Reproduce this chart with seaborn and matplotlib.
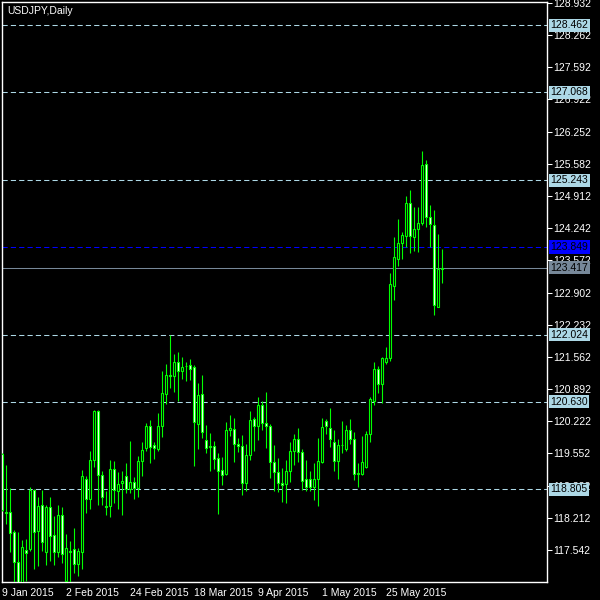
import pandas as pd
import numpy as np
import matplotlib
matplotlib.use("Agg")
import matplotlib.pyplot as plt
import matplotlib.transforms as mtransforms
import seaborn as sns

# daily USDJPY candles, 9 Jan 2015 .. 12 Jun 2015
opens = [119.55, 118.33, 118.33, 117.91, 117.30, 116.55, 117.54, 117.56, 118.79, 117.94,
         118.47, 117.49, 118.44, 117.85, 117.51, 118.28, 116.90, 117.52, 117.56, 117.26,
         117.49, 119.02, 118.61, 119.41, 120.44, 119.10, 118.45, 118.45, 119.22, 118.76,
         118.93, 119.08, 118.81, 118.96, 118.83, 119.40, 119.67, 120.12, 119.72, 119.65,
         120.12, 120.78, 121.18, 121.17, 121.46, 121.27, 121.37, 121.39, 121.35, 120.17,
         120.78, 119.83, 119.70, 119.70, 119.46, 119.20, 119.12, 120.04, 120.07, 119.74,
         119.70, 118.93, 119.51, 120.27, 120.12, 120.55, 120.19, 120.12, 119.37, 119.16,
         118.94, 118.91, 119.18, 119.61, 119.85, 119.58, 119.01, 119.01, 118.85, 119.01,
         119.37, 120.22, 120.08, 119.80, 119.40, 119.73, 119.65, 120.05, 119.85, 119.13,
         119.12, 119.26, 119.95, 120.65, 121.30, 121.00, 121.46, 121.53, 123.04, 123.61,
         123.93, 124.08, 124.76, 124.06, 124.23, 124.34, 125.57, 124.47, 124.30, 122.61,
         123.39]
highs = [119.56, 119.31, 118.83, 117.96, 117.92, 117.75, 117.76, 118.85, 118.81, 118.65,
         118.79, 118.48, 118.64, 118.25, 118.48, 118.44, 117.87, 117.73, 118.00, 117.58,
         119.21, 119.08, 119.60, 120.46, 120.46, 119.19, 118.76, 119.42, 119.39, 119.17,
         119.19, 119.35, 119.81, 119.06, 119.50, 119.79, 120.19, 120.25, 119.80, 120.39,
         121.27, 121.41, 122.02, 121.62, 121.66, 121.55, 121.46, 121.51, 121.39, 121.02,
         121.18, 120.14, 119.98, 119.81, 119.56, 119.48, 120.21, 120.35, 120.30, 119.87,
         119.93, 119.74, 120.44, 120.32, 120.73, 120.65, 120.83, 120.16, 119.72, 119.45,
         119.25, 119.42, 119.80, 119.96, 120.08, 119.64, 119.42, 119.19, 119.35, 119.87,
         120.29, 120.27, 120.50, 120.04, 119.85, 120.23, 120.14, 120.27, 120.00, 119.35,
         119.92, 120.02, 120.73, 121.46, 121.37, 121.56, 121.77, 123.31, 124.06, 124.43,
         124.16, 124.91, 125.04, 124.68, 124.68, 125.85, 125.66, 124.72, 124.62, 124.12,
         123.81]
lows = [118.36, 118.08, 117.51, 116.65, 115.85, 116.00, 116.90, 117.53, 117.15, 117.21,
        117.52, 117.23, 117.32, 117.23, 117.40, 117.28, 116.80, 116.80, 117.06, 117.01,
        117.14, 118.31, 118.39, 119.26, 118.48, 118.48, 118.26, 118.22, 118.53, 118.40,
        118.27, 118.72, 118.73, 118.60, 118.65, 119.09, 119.61, 119.36, 119.44, 119.61,
        119.89, 120.59, 120.92, 120.84, 120.65, 121.10, 121.07, 121.08, 119.28, 119.64,
        119.88, 119.57, 119.19, 119.22, 118.30, 118.90, 119.10, 119.92, 119.38, 119.59,
        118.69, 118.78, 119.42, 119.61, 119.83, 120.03, 119.67, 119.04, 118.76, 118.75,
        118.55, 118.51, 118.96, 119.32, 119.37, 118.79, 118.76, 118.76, 118.59, 118.46,
        119.35, 119.96, 119.69, 119.19, 119.02, 119.57, 119.61, 119.75, 119.00, 118.86,
        119.10, 119.24, 119.80, 120.55, 120.82, 120.60, 121.42, 121.48, 122.75, 123.45,
        123.59, 123.86, 123.73, 123.77, 123.75, 124.31, 124.27, 123.86, 122.44, 122.60,
        123.11]
closes = [118.37, 118.31, 117.90, 117.30, 116.55, 117.60, 117.48, 118.79, 117.92, 118.46,
          117.71, 118.44, 117.84, 117.51, 118.27, 117.45, 117.58, 117.51, 117.24, 117.52,
          119.08, 118.61, 119.41, 120.44, 119.10, 118.64, 118.44, 119.22, 118.79, 118.92,
          118.97, 118.81, 118.95, 118.84, 119.39, 119.62, 120.12, 119.69, 119.66, 120.12,
          120.82, 121.18, 121.16, 121.46, 121.26, 121.35, 121.38, 121.32, 120.20, 120.76,
          119.99, 119.67, 119.68, 119.44, 119.19, 119.11, 120.03, 120.09, 119.74, 119.71,
          118.93, 119.51, 120.24, 120.12, 120.55, 120.18, 120.12, 119.37, 119.16, 118.93,
          118.90, 119.18, 119.61, 119.85, 119.58, 118.97, 118.86, 118.86, 119.01, 119.39,
          120.10, 120.12, 119.85, 119.40, 119.73, 119.72, 120.05, 119.85, 119.12, 119.14,
          119.37, 119.96, 120.68, 121.30, 121.00, 121.53, 121.53, 123.08, 123.64, 123.93,
          124.09, 124.76, 124.08, 124.22, 124.34, 125.56, 124.47, 124.32, 122.64, 123.40,
          123.417]

level_lines = [128.462, 127.068, 125.243, 122.024, 120.630, 118.805]
blue_line = 123.849
bid_line = 123.417
price_ticks = [128.932, 128.262, 127.592, 126.922, 126.252, 125.582, 124.912, 124.242,
               123.572, 122.902, 122.232, 121.562, 120.892, 120.222, 119.552, 118.882,
               118.212, 117.542]

dates = pd.bdate_range("2015-01-09", periods=len(opens))
df = pd.DataFrame({"Date": dates, "Open": opens, "High": highs, "Low": lows, "Close": closes})
df["idx"] = np.arange(len(df))
df["bull"] = df["Close"] >= df["Open"]

# -----------------------------
# style
# -----------------------------
sns.set_theme(style="dark", rc={
    "figure.facecolor": "black", "axes.facecolor": "black",
    "axes.edgecolor": "white", "xtick.color": "white", "ytick.color": "white",
    "text.color": "white", "axes.grid": False,
})
plt.rcParams["font.family"] = ["Liberation Sans", "DejaVu Sans"]

fig = plt.figure(figsize=(6, 6), dpi=100)
ax = fig.add_axes([2 / 600, 18 / 600, 545 / 600, 580 / 600])

lime = "#00ff00"

# wicks
ax.vlines(df["idx"], df["Low"], df["High"], color=lime, linewidth=0.8, zorder=3)

# bodies
body_bottom = df[["Open", "Close"]].min(axis=1)
body_height = (df["Close"] - df["Open"]).abs()
fills = np.where(df["bull"], "black", "white")
ax.bar(df["idx"], body_height, bottom=body_bottom, width=0.58, color=fills,
       edgecolor=lime, linewidth=0.8, zorder=4)

# horizontal levels
for lv in level_lines:
    ax.axhline(lv, color="#add8e6", linewidth=0.75, linestyle=(0, (5, 3)), zorder=2)
ax.axhline(blue_line, color="#0000ff", linewidth=0.75, linestyle=(0, (5, 3)), zorder=2)
ax.axhline(bid_line, color="#778899", linewidth=0.75, zorder=2)

ax.set_xlim(0, 136.25)
ax.set_ylim(116.875, 128.951)

# axes
ax.yaxis.tick_right()
ax.set_yticks(price_ticks)
ax.set_yticklabels([f"{t:.3f}" for t in price_ticks])
tick_idx = list(range(0, len(df), 16))
ax.set_xticks(tick_idx)
ax.set_xticklabels([f"{dates[i].day} {dates[i]:%b %Y}" for i in tick_idx], ha="left")
ax.tick_params(axis="both", direction="out", length=3.5, width=0.75, labelsize=7.5,
               colors="white", pad=1)
ax.tick_params(axis="y", left=False, right=True)
for s in ax.spines.values():
    s.set_color("white")
    s.set_linewidth(1)

# price labels on the right
trans = mtransforms.blended_transform_factory(ax.transAxes, ax.transData)
for lv in level_lines:
    ax.text(1.006, lv, f"{lv:.3f}", transform=trans, ha="left", va="center",
            fontsize=7.5, color="black", clip_on=False, zorder=10,
            bbox=dict(boxstyle="square,pad=0.15", fc="#add8e6", ec="none"))
ax.text(1.006, blue_line, f"{blue_line:.3f}", transform=trans, ha="left", va="center",
        fontsize=7.5, color="black", clip_on=False, zorder=10,
        bbox=dict(boxstyle="square,pad=0.15", fc="#0000ff", ec="none"))
ax.text(1.006, bid_line, f"{bid_line:.3f}", transform=trans, ha="left", va="center",
        fontsize=7.5, color="black", clip_on=False, zorder=10,
        bbox=dict(boxstyle="square,pad=0.15", fc="#778899", ec="none"))

ax.text(0.009, 0.985, "USDJPY,Daily", transform=ax.transAxes, ha="left", va="center",
        fontsize=7.5, color="white")

fig.savefig("out.png", dpi=100, facecolor="black")
